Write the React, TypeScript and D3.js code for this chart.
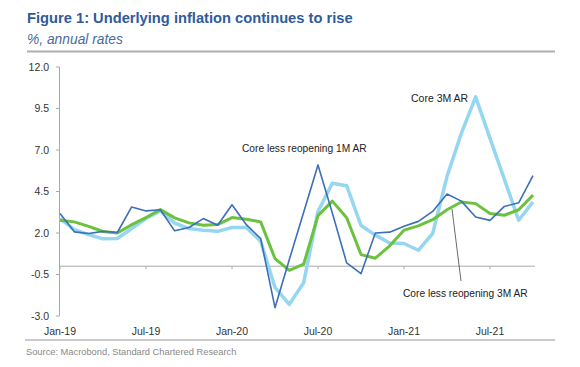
import React from "react";
import * as d3 from "d3";

const months = d3.range(34); // Jan-19 .. Oct-21
const xTickIdx = [0, 6, 12, 18, 24, 30];
const xTickLabels = ["Jan-19", "Jul-19", "Jan-20", "Jul-20", "Jan-21", "Jul-21"];
const yTicks = [-3, -0.5, 2, 4.5, 7, 9.5, 12];

const coreLessReopening1M = [
  3.17, 2.07, 1.97, 2.1, 2.03, 3.57, 3.33, 3.4, 2.13, 2.33, 2.87, 2.47,
  3.7, 2.5, 1.67, -2.5, 0.4, 3.25, 6.1, 3.2, 0.2, -0.45, 2.0, 2.05,
  2.4, 2.7, 3.3, 4.35, 3.92, 2.96, 2.76, 3.6, 3.82, 5.45,
];
const core3M = [
  2.87, 2.2, 1.9, 1.65, 1.67, 2.27, 2.87, 3.33, 2.6, 2.27, 2.17, 2.1,
  2.33, 2.33, 1.5, -1.28, -2.3, -1.0, 3.3, 5.0, 4.85, 2.45, 1.87, 1.4,
  1.37, 0.96, 1.97, 5.4, 8.0, 10.2, 7.7, 5.25, 2.77, 3.87,
];
const coreLessReopening3M = [
  2.77, 2.67, 2.4, 2.09, 2.0, 2.5, 2.93, 3.41, 2.91, 2.61, 2.47, 2.51,
  2.93, 2.83, 2.67, 0.46, -0.25, 0.12, 3.05, 3.92, 2.92, 0.7, 0.48, 1.23,
  2.17, 2.43, 2.8, 3.4, 3.87, 3.77, 3.18, 3.07, 3.4, 4.28,
];

const W = 580;
const H = 367;
const FONT = "Liberation Sans, Arial, sans-serif";

export default function App() {
  const x = d3.scaleLinear().domain([0, 33]).range([60, 533]);
  const y = d3.scaleLinear().domain([-3, 12]).range([316, 67]);
  const line = (vals: number[]) =>
    d3
      .line<number>()
      .x((_, i) => x(months[i]))
      .y((d) => y(d))(vals) as string;

  return (
    <svg
      width={W}
      height={H}
      style={{ position: "absolute", left: 0, top: 0, background: "#fff" }}
      fontFamily={FONT}
    >
      <text x={27} y={23} fontSize={14.7} fontWeight="bold" fill="#2f5b9a">
        Figure 1: Underlying inflation continues to rise
      </text>
      <text x={27} y={44} fontSize={13.8} fontStyle="italic" fill="#4a6b9c">
        %, annual rates
      </text>
      <line x1={27} x2={555} y1={51.5} y2={51.5} stroke="#b0b0b0" strokeWidth={2} />

      {/* y axis */}
      <line x1={59.5} x2={59.5} y1={y(12)} y2={y(-3)} stroke="#aaa" strokeWidth={1} />
      {yTicks.map((t) => (
        <g key={t}>
          <line x1={56} x2={59.5} y1={y(t)} y2={y(t)} stroke="#aaa" />
          <text
            x={49}
            y={y(t)}
            dy="0.35em"
            textAnchor="end"
            fontSize={10.5}
            fill="#333"
          >
            {t.toFixed(1)}
          </text>
        </g>
      ))}

      {/* zero line with ticks */}
      <line x1={59.5} x2={535} y1={y(0)} y2={y(0)} stroke="#aaa" strokeWidth={1} />
      {xTickIdx.map((m, i) => (
        <g key={m}>
          <line x1={x(m)} x2={x(m)} y1={y(0)} y2={y(0) + 3} stroke="#aaa" />
          <text x={x(m)} y={335} textAnchor="middle" fontSize={10.5} fill="#333">
            {xTickLabels[i]}
          </text>
        </g>
      ))}

      <path d={line(core3M)} fill="none" stroke="#95d6f1" strokeWidth={3.5} strokeLinejoin="round" />
      <path d={line(coreLessReopening3M)} fill="none" stroke="#6cc13e" strokeWidth={3} strokeLinejoin="round" />
      <path d={line(coreLessReopening1M)} fill="none" stroke="#3c6fb6" strokeWidth={1.6} strokeLinejoin="round" />

      {/* annotations */}
      <text x={411} y={102} fontSize={10.5} fill="#222">Core 3M AR</text>
      <text x={242} y={152} fontSize={10.2} fill="#222">Core less reopening 1M AR</text>
      <line x1={452} y1={209} x2={461} y2={281} stroke="#444" strokeWidth={0.8} />
      <text x={403} y={297} fontSize={10.2} fill="#222">Core less reopening 3M AR</text>

      <line x1={25} x2={555} y1={340} y2={340} stroke="#b8b8b8" strokeWidth={1.5} />
      <text x={26} y={355} fontSize={9.3} fill="#888">
        Source: Macrobond, Standard Chartered Research
      </text>
    </svg>
  );
}
